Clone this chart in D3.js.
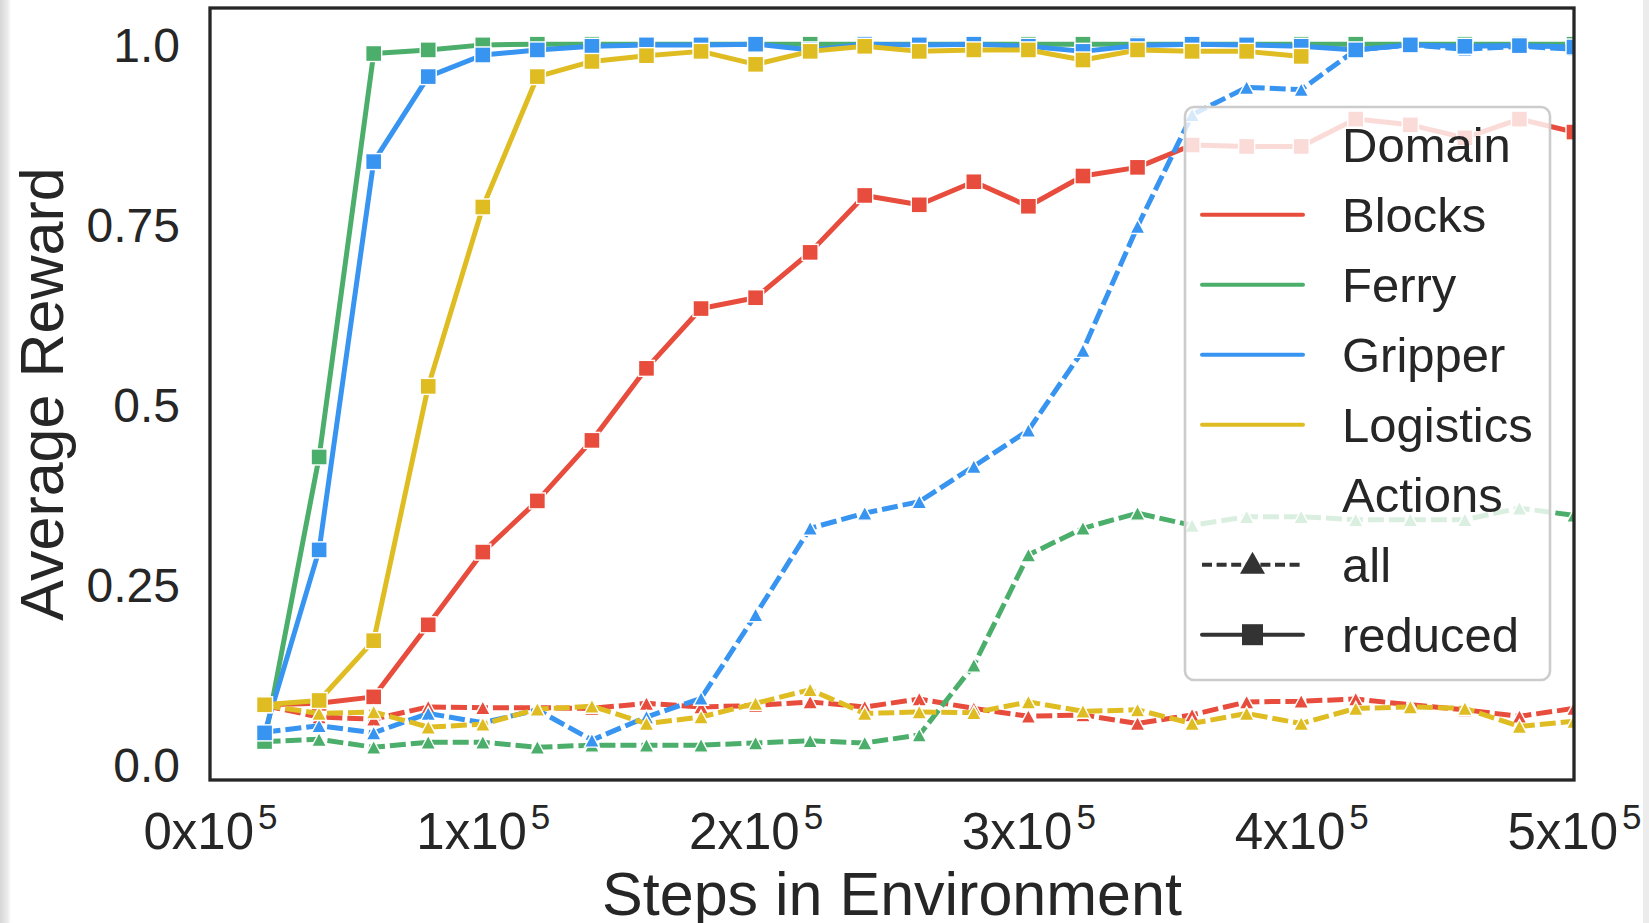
<!DOCTYPE html>
<html>
<head>
<meta charset="utf-8">
<script src="https://cdn.jsdelivr.net/npm/d3@7"></script>
<style>
  body { margin: 0; background: #ffffff; }
  svg { display: block; }
  text { font-family: "Liberation Sans", Arial, Helvetica, sans-serif; fill: #262626; }
</style>
</head>
<body>
<svg id="chart" width="1649" height="923"></svg>
<script>
// ---------------- DATA ----------------
const steps = [20000, 40000, 60000, 80000, 100000, 120000, 140000, 160000, 180000, 200000,
               220000, 240000, 260000, 280000, 300000, 320000, 340000, 360000, 380000, 400000,
               420000, 440000, 460000, 480000, 500000];

const domains = ["Blocks", "Ferry", "Gripper", "Logistics"];
const actionTypes = ["all", "reduced"];

// Actions = all (dashed, triangles)
const blocksAll = [0.082, 0.066, 0.063, 0.080, 0.079, 0.079, 0.078, 0.085, 0.080, 0.082,
                   0.087, 0.080, 0.091, 0.078, 0.067, 0.069, 0.057, 0.069, 0.087, 0.088,
                   0.091, 0.083, 0.076, 0.067, 0.078];
const ferryAll = [0.032, 0.035, 0.024, 0.031, 0.031, 0.024, 0.027, 0.027, 0.027, 0.030,
                  0.033, 0.030, 0.041, 0.138, 0.291, 0.328, 0.349, 0.332, 0.344, 0.344,
                  0.340, 0.340, 0.340, 0.356, 0.346];
const gripperAll = [0.045, 0.054, 0.044, 0.071, 0.058, 0.076, 0.034, 0.066, 0.092, 0.208,
                    0.328, 0.349, 0.365, 0.414, 0.464, 0.575, 0.747, 0.902, 0.940, 0.937,
                    0.992, 0.999, 0.993, 0.997, 0.993];
const logisticsAll = [0.082, 0.071, 0.073, 0.052, 0.056, 0.077, 0.081, 0.057, 0.066, 0.085,
                      0.104, 0.071, 0.073, 0.072, 0.087, 0.074, 0.076, 0.057, 0.071, 0.057,
                      0.078, 0.080, 0.078, 0.053, 0.060];

// Actions = reduced (solid, squares)
const blocksReduced = [0.083, 0.085, 0.094, 0.194, 0.295, 0.366, 0.450, 0.550, 0.633, 0.648,
                       0.711, 0.790, 0.777, 0.809, 0.775, 0.817, 0.829, 0.860, 0.858, 0.858,
                       0.896, 0.888, 0.870, 0.896, 0.878];
const ferryReduced = [0.032, 0.427, 0.987, 0.992, 0.999, 1.000, 1.000, 1.000, 1.000, 1.000,
                      1.000, 1.000, 1.000, 1.000, 1.000, 1.000, 1.000, 1.000, 1.000, 1.000,
                      1.000, 1.000, 1.000, 1.000, 1.000];
const gripperReduced = [0.044, 0.298, 0.837, 0.955, 0.985, 0.992, 0.997, 0.999, 0.999, 1.000,
                        0.992, 1.000, 0.999, 1.000, 0.997, 0.990, 0.998, 1.000, 0.999, 0.997,
                        0.992, 0.999, 0.997, 0.998, 0.996];
const logisticsReduced = [0.083, 0.089, 0.172, 0.525, 0.774, 0.955, 0.976, 0.984, 0.990, 0.972,
                          0.990, 0.997, 0.990, 0.992, 0.992, 0.978, 0.992, 0.990, 0.990, 0.983,
                          null, null, null, null, null];

const xTicks = [0, 100000, 200000, 300000, 400000, 500000];
const xTickMantissa = ["0", "1", "2", "3", "4", "5"];
const xTickExponent = "5";
const yTicks = [0, 0.25, 0.5, 0.75, 1.0];
const yTickLabels = ["0.0", "0.25", "0.5", "0.75", "1.0"];

const xLabel = "Steps in Environment";
const yLabel = "Average Reward";
const legendTitles = ["Domain", "Actions"];

// ---------------- STYLE ----------------
const domainColors = ["#e74c3c", "#4bae6b", "#3794f0", "#dfbd22"];
const dark = "#262626";

// ---------------- BUILD ----------------
const W = 1649, H = 923;
const M = { left: 210, right: 1574, top: 8, bottom: 780 };
const svg = d3.select("#chart");

const x = d3.scaleLinear().domain([0, 500000]).range([M.left, M.right]);
const y = d3.scaleLinear().domain([-0.0214, 1.0502]).range([M.bottom, M.top]);

const defs = svg.append("defs");
const grad = defs.append("linearGradient").attr("id", "leftEdge").attr("x1", 0).attr("x2", 1).attr("y1", 0).attr("y2", 0);
grad.append("stop").attr("offset", "0%").attr("stop-color", "#d6d6d6");
grad.append("stop").attr("offset", "70%").attr("stop-color", "#ececec");
grad.append("stop").attr("offset", "100%").attr("stop-color", "#ffffff");
defs.append("clipPath").attr("id", "plotClip").append("rect")
  .attr("x", M.left).attr("y", M.top).attr("width", M.right - M.left).attr("height", M.bottom - M.top);

svg.append("rect").attr("width", W).attr("height", H).attr("fill", "#ffffff");
svg.append("rect").attr("x", 0).attr("y", 0).attr("width", 11).attr("height", H).attr("fill", "url(#leftEdge)");
svg.append("rect").attr("x", 1643).attr("y", 0).attr("width", 6).attr("height", H).attr("fill", "#ececec");

const valueSets = {
  Blocks: { all: blocksAll, reduced: blocksReduced },
  Ferry: { all: ferryAll, reduced: ferryReduced },
  Gripper: { all: gripperAll, reduced: gripperReduced },
  Logistics: { all: logisticsAll, reduced: logisticsReduced }
};

const plot = svg.append("g").attr("clip-path", "url(#plotClip)");
const line = d3.line().defined(d => d.v != null).x(d => x(d.s)).y(d => y(d.v));

const SQ = 16;            // square marker side
const TRI_W = 15, TRI_H = 14;
const triPath = (w, h) => `M0,${-h / 2}L${w / 2},${h / 2}L${-w / 2},${h / 2}Z`;

domains.forEach((dom, di) => {
  actionTypes.forEach(act => {
    const pts = steps.map((s, i) => ({ s, v: valueSets[dom][act][i] })).filter(d => d.v != null);
    const col = domainColors[di];
    plot.append("path")
      .datum(pts)
      .attr("d", line)
      .attr("fill", "none")
      .attr("stroke", col)
      .attr("stroke-width", 5)
      .attr("stroke-linejoin", "round")
      .attr("stroke-dasharray", act === "all" ? "16,5" : null);
    if (act === "reduced") {
      plot.selectAll(null).data(pts).enter().append("rect")
        .attr("x", d => x(d.s) - SQ / 2).attr("y", d => y(d.v) - SQ / 2)
        .attr("width", SQ).attr("height", SQ)
        .attr("fill", col).attr("stroke", "#ffffff").attr("stroke-width", 1.4);
    } else {
      plot.selectAll(null).data(pts).enter().append("path")
        .attr("transform", d => `translate(${x(d.s)},${y(d.v)})`)
        .attr("d", triPath(TRI_W, TRI_H))
        .attr("fill", col).attr("stroke", "#ffffff").attr("stroke-width", 1.4);
    }
  });
});

// Axes tick labels (no tick marks)
const yAxis = svg.append("g").attr("transform", `translate(${M.left},0)`)
  .call(d3.axisLeft(y).tickValues(yTicks).tickSize(0).tickPadding(30)
        .tickFormat((d, i) => yTickLabels[i]));
yAxis.select(".domain").remove();
yAxis.selectAll("text").attr("font-size", 48).attr("fill", dark)
  .attr("font-family", "'Liberation Sans', Arial, sans-serif").attr("dy", "0.36em");

const xAxis = svg.append("g").attr("transform", `translate(0,${M.bottom})`)
  .call(d3.axisBottom(x).tickValues(xTicks).tickSize(0).tickFormat(() => ""));
xAxis.select(".domain").remove();
xAxis.selectAll(".tick").each(function (d, i) {
  const t = d3.select(this).select("text")
    .attr("y", 69).attr("dy", null)
    .attr("font-size", 51).attr("fill", dark)
    .attr("font-family", "'Liberation Sans', Arial, sans-serif")
    .attr("text-anchor", "middle");
  t.text(null);
  t.append("tspan").text(xTickMantissa[i] + "x10");
  t.append("tspan").attr("font-size", 35).attr("dy", -20).attr("dx", 4).text(xTickExponent);
});

// Spines
svg.append("rect")
  .attr("x", M.left).attr("y", M.top).attr("width", M.right - M.left).attr("height", M.bottom - M.top)
  .attr("fill", "none").attr("stroke", dark).attr("stroke-width", 3.3);

// Axis labels
svg.append("text")
  .attr("x", (M.left + M.right) / 2).attr("y", 915)
  .attr("text-anchor", "middle").attr("font-size", 61).text(xLabel);
svg.append("text")
  .attr("transform", `translate(63,${(M.top + M.bottom) / 2}) rotate(-90)`)
  .attr("text-anchor", "middle").attr("font-size", 61).text(yLabel);

// Legend
const legendItems = [
  { label: legendTitles[0], kind: "title" },
  ...domains.map((d, i) => ({ label: d, kind: "hue", color: domainColors[i] })),
  { label: legendTitles[1], kind: "title" },
  { label: actionTypes[0], kind: "style", dash: true, marker: "tri" },
  { label: actionTypes[1], kind: "style", dash: false, marker: "sq" }
];
const LG = { x: 1185, y: 107, w: 365, h: 573, first: 54.7, step: 70, hx0: 17, hx1: 118, tx: 157 };
const lg = svg.append("g").attr("transform", `translate(${LG.x},${LG.y})`);
lg.append("rect").attr("width", LG.w).attr("height", LG.h).attr("rx", 9).attr("ry", 9)
  .attr("fill", "rgba(255,255,255,0.8)").attr("stroke", "#cccccc").attr("stroke-width", 2.6);
const rows = lg.selectAll("g.row").data(legendItems).enter().append("g")
  .attr("class", "row")
  .attr("transform", (d, i) => `translate(0,${LG.first + i * LG.step})`);
rows.append("text").attr("x", LG.tx).attr("y", 0).attr("font-size", 49).text(d => d.label);
rows.filter(d => d.kind !== "title").append("line")
  .attr("x1", LG.hx0).attr("x2", LG.hx1).attr("y1", -17).attr("y2", -17)
  .attr("stroke", d => d.kind === "hue" ? d.color : "#333333")
  .attr("stroke-width", 4)
  .attr("stroke-linecap", d => d.dash ? "butt" : "round")
  .attr("stroke-dasharray", d => d.dash ? "10,4.6" : null);
const mid = (LG.hx0 + LG.hx1) / 2;
rows.filter(d => d.marker === "tri").append("path")
  .attr("transform", `translate(${mid},-19)`)
  .attr("d", triPath(25, 22)).attr("fill", "#333333");
rows.filter(d => d.marker === "sq").append("rect")
  .attr("x", mid - 10.5).attr("y", -17 - 10.5).attr("width", 21).attr("height", 21)
  .attr("fill", "#333333");
</script>
</body>
</html>
